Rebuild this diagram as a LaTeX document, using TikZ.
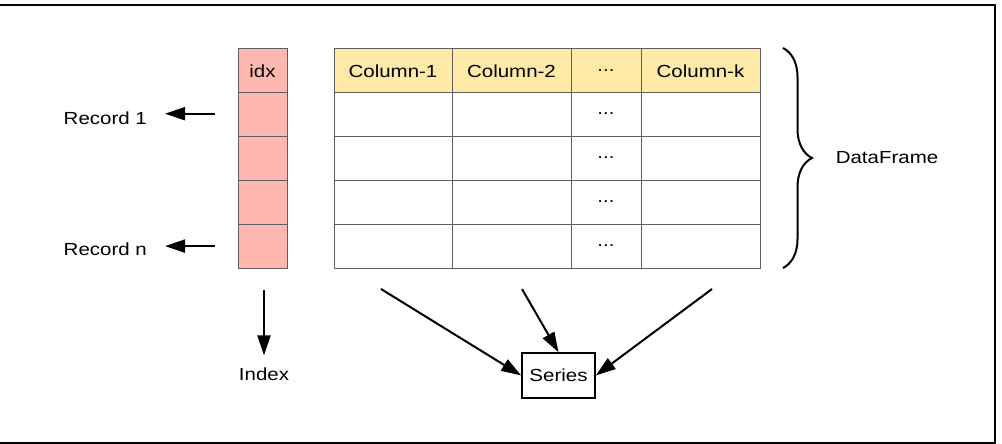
\documentclass[tikz,border=0pt]{standalone}
\usepackage{fontspec}
\setmainfont{Liberation Sans}[FakeStretch=1.17]
\usepackage{xcolor}
\usepackage{tikz}
\usetikzlibrary{arrows.meta, positioning, calc, decorations.pathreplacing}
\definecolor{rosepale}{HTML}{FFB7AF}
\definecolor{jaunepale}{HTML}{FFE9A6}
\definecolor{trait}{HTML}{5E5E5E}
\tikzstyle{cellule} = [rectangle, minimum height = 43.8pt, inner sep = 0pt, outer sep = 0pt, text centered, draw = trait, line width = 1pt, fill = white]
\tikzstyle{rose} = [cellule, minimum width = 49pt, fill = rosepale]
\tikzstyle{jaune} = [cellule, fill = jaunepale]
\tikzstyle{fleche} = [line width = 2pt, -{Triangle[length = 20pt, width = 13pt]}]
\tikzstyle{etiquette} = [inner sep = 0pt, font = \fontsize{17.5}{20}\selectfont]

\begin{document}
\begin{tikzpicture}[x = 1pt, y = -1pt, font = \fontsize{17.5}{20}\selectfont]
\useasboundingbox (0,0) rectangle (1002,444);
\begin{scope}
\clip (0,0) rectangle (1002,444);
\draw[line width = 2.5pt] (-5,5) rectangle (995,443);
\end{scope}

% colonne d'index
\node (i0) [rose] at (262.5,70.9) {idx} ;
\foreach \k in {1,...,4}
  \node (i\k) [rose, below = 0pt of i\the\numexpr\k-1\relax] {} ;

% en-tetes
\node (c1) [jaune, minimum width = 118pt] at (393,70.9) {Column-1} ;
\node (c2) [jaune, minimum width = 119pt, right = 0pt of c1] {Column-2} ;
\node (c3) [jaune, minimum width = 70pt, right = 0pt of c2] {...} ;
\node (c4) [jaune, minimum width = 119pt, right = 0pt of c3] {Column-k} ;

% lignes de donnees
\foreach \k in {1,...,4} {
  \node (a\k) [cellule, minimum width = 118pt] at (c1 |- i\k) {} ;
  \node (b\k) [cellule, minimum width = 119pt] at (c2 |- i\k) {} ;
  \node (d\k) [cellule, minimum width = 70pt] at (c3 |- i\k) {\raisebox{2pt}{...}} ;
  \node (e\k) [cellule, minimum width = 119pt] at (c4 |- i\k) {} ;
}

% enregistrements
\node (rec1) [etiquette, anchor = east] at (147,118) {Record 1} ;
\node (recn) [etiquette, anchor = east] at (147,249) {Record n} ;
\draw[fleche, shorten <= 23pt, shorten >= 18pt] ([yshift = 1pt]i1.west) -- ([yshift = 1pt]i1.west -| rec1.east) ;
\draw[fleche, shorten <= 23pt, shorten >= 18pt] (i4.west) -- (i4.west -| recn.east) ;

% index
\node (index) [etiquette] at (264,374) {Index} ;
\draw[fleche, shorten <= 22pt, shorten >= 12pt] ([xshift = 1.5pt]i4.south) -- ([xshift = 1.5pt]i4.south |- index.north) ;

% series
\node (series) [rectangle, draw = black, line width = 1.5pt, minimum width = 73pt, minimum height = 45pt, inner sep = 0pt] at (558.5,375.5) {Series} ;
\coordinate (s1) at (381,289) ;
\coordinate (s2) at (522,289) ;
\coordinate (s3) at (712,289) ;
\draw[fleche] (s1) -- (series.west) ;
\draw[fleche] (s2) -- (series.north) ;
\draw[fleche] (s3) -- (series.east) ;

% accolade
\coordinate (haut) at (783,48) ;
\coordinate (bas) at (783,268) ;
\draw[line width = 2pt, decorate, decoration = {brace, amplitude = 29pt}] (haut) -- (bas) ;
\node (df) [etiquette] at (887,158) {DataFrame} ;
\end{tikzpicture}
\end{document}
